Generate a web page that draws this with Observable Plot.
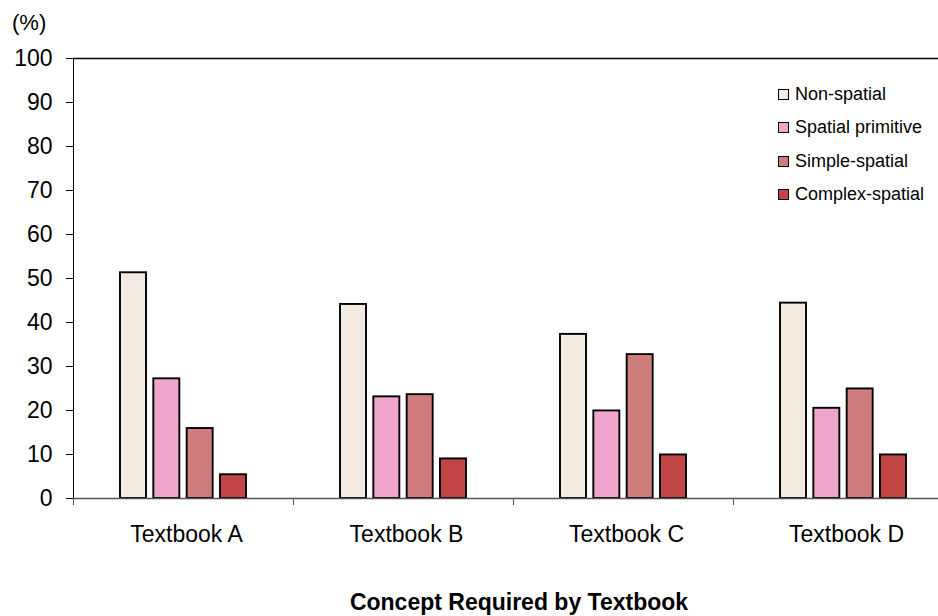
<!DOCTYPE html>
<html>
<head>
<meta charset="utf-8">
<script src="https://cdn.jsdelivr.net/npm/d3@7"></script>
<script src="https://cdn.jsdelivr.net/npm/@observablehq/plot@0.6"></script>
<style>
  html, body { margin: 0; padding: 0; background: #fff; overflow: hidden; }
  #wrap { position: relative; width: 938px; height: 616px; font-family: "Liberation Sans", Arial, sans-serif; color: #000; }
  #chart { position: absolute; left: 0; top: 0; }
  #unit { position: absolute; left: 12px; top: 12px; font-size: 22px; line-height: 22px; }
  #legend { position: absolute; left: 778px; top: 77.5px; font-size: 18px; }
  .row { display: flex; align-items: center; height: 33.5px; }
  .sw { width: 11px; height: 11px; box-sizing: border-box; border: 1.5px solid #000; margin-right: 6px; }
  #title { position: absolute; left: 0; width: 1038px; top: 590.5px; text-align: center; font-size: 23px; font-weight: bold; line-height: 23px; }
</style>
</head>
<body>
<div id="wrap">
  <div id="chart"></div>
  <div id="unit">(%)</div>
  <div id="legend"></div>
  <div id="title">Concept Required by Textbook</div>
</div>
<script>
const textbooks = ["Textbook A", "Textbook B", "Textbook C", "Textbook D"];
const series = ["Non-spatial", "Spatial primitive", "Simple-spatial", "Complex-spatial"];
const nonSpatial = [51.3, 44.1, 37.3, 44.4];
const spatialPrimitive = [27.2, 23.1, 19.9, 20.5];
const simpleSpatial = [15.9, 23.6, 32.7, 24.9];
const complexSpatial = [5.4, 9.0, 9.9, 9.9];
const yTicks = [0, 10, 20, 30, 40, 50, 60, 70, 80, 90, 100];
const colors = ["#F3EBE2", "#EFA5CC", "#CF7C7C", "#C24545"];

const seriesValues = [nonSpatial, spatialPrimitive, simpleSpatial, complexSpatial];
const data = [];
textbooks.forEach((t, i) => series.forEach((s, j) => data.push({textbook: t, series: s, value: seriesValues[j][i]})));

const chart = Plot.plot({
  width: 938,
  height: 570,
  marginLeft: 73,
  marginRight: -15,
  marginTop: 58,
  marginBottom: 72,
  style: {fontFamily: "'Liberation Sans', Arial, sans-serif", fontSize: "23px", background: "transparent", color: "#000"},
  fx: {domain: textbooks, padding: 0, round: false},
  x: {domain: series, paddingInner: 0.22, paddingOuter: 1.41, round: false, axis: null},
  y: {domain: [0, 100], ticks: yTicks, tickSize: 7, tickPadding: 14, line: true, label: null},
  color: {domain: series, range: colors},
  marks: [
    Plot.ruleY([100], {stroke: "#000", strokeWidth: 1.5}),
    Plot.barY(data, {fx: "textbook", x: "series", y: "value", fill: "series", stroke: "#000", strokeWidth: 1.9}),
    Plot.ruleY([0], {stroke: "#555", strokeWidth: 1.6}),
    Plot.axisFx({anchor: "bottom", tickSize: 0, tickPadding: 27, dx: 3, fontSize: 23, label: null}),
    Plot.axisFx({anchor: "bottom", tickSize: 7, dx: -110, tickFormat: () => "", label: null, stroke: "#555"})
  ]
});
document.getElementById("chart").appendChild(chart);

const legend = document.getElementById("legend");
series.forEach((s, j) => {
  const row = document.createElement("div");
  row.className = "row";
  const sw = document.createElement("div");
  sw.className = "sw";
  sw.style.background = colors[j];
  const label = document.createElement("span");
  label.textContent = s;
  row.appendChild(sw);
  row.appendChild(label);
  legend.appendChild(row);
});
</script>
</body>
</html>
